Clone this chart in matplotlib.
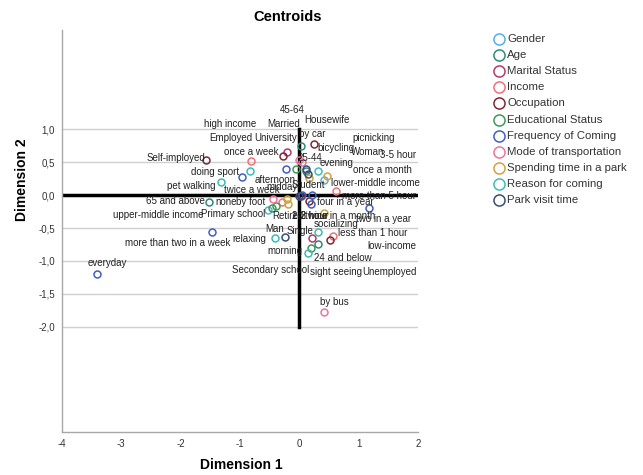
import matplotlib
matplotlib.use("Agg")
import matplotlib.pyplot as plt
from matplotlib.lines import Line2D

plt.rcParams['font.family'] = ['Liberation Sans', 'DejaVu Sans']

# ---------------- data: centroid coordinates per variable ----------------
gender_labels = ["Man", "Woman"]
gender_x = [-0.52, 0.42]
gender_y = [-0.23, 0.23]

age_labels = ["24 and below", "25-44", "45-64", "65 and above"]
age_x = [0.32, 0.12, 0.03, -1.52]
age_y = [-0.74, 0.36, 0.74, -0.10]

marital_labels = ["Married", "Single"]
marital_x = [-0.20, 0.22]
marital_y = [0.65, -0.65]

income_labels = ["high income", "upper-middle income", "lower-middle income", "low-income"]
income_x = [-0.81, -0.29, 0.62, 0.56]
income_y = [0.52, -0.10, 0.06, -0.62]

occupation_labels = ["Employed", "Self-imployed", "Housewife", "Student", "Retired", "Unemployed"]
occupation_x = [-0.27, -1.57, 0.24, 0.02, 0.17, 0.51]
occupation_y = [0.59, 0.53, 0.77, -0.01, -0.09, -0.68]

education_labels = ["none", "Primary school", "Secondary school", "University"]
education_x = [-0.46, -0.40, 0.20, -0.05]
education_y = [-0.19, -0.17, -0.81, 0.40]

frequency_labels = ["everyday", "more than two in a week", "once a week", "twice a week",
                    "once a month", "twice in a month", "four in a year", "two in a year"]
frequency_x = [-3.41, -1.47, -0.96, -0.22, 0.22, 0.19, 0.05, 1.18]
frequency_y = [-1.20, -0.56, 0.27, 0.40, 0.00, -0.14, 0.00, -0.20]

mode_labels = ["by foot", "by car", "bicycling", "by bus"]
mode_x = [-0.44, 0.00, 0.05, 0.41]
mode_y = [-0.06, 0.53, 0.50, -1.78]

spending_labels = ["less than 1 hour", "1-2 hour", "2-3 hour", "3-5 hour", "more than 5 hour"]
spending_x = [0.41, -0.20, -0.19, 0.47, 0.17]
spending_y = [-0.27, -0.06, -0.14, 0.29, 0.26]

reason_labels = ["picnicking", "doing sport", "pet walking", "relaxing", "socializing", "sight seeing"]
reason_x = [0.32, -0.83, -1.32, -0.41, 0.32, 0.15]
reason_y = [0.37, 0.36, 0.20, -0.65, -0.56, -0.88]

visit_labels = ["morning", "afternoon", "evening", "midday"]
visit_x = [-0.25, 0.15, 0.12, 0.00]
visit_y = [-0.64, 0.32, 0.40, -0.01]

series = [
    ("Gender", gender_labels, gender_x, gender_y, "#56aee6"),
    ("Age", age_labels, age_x, age_y, "#2f8a7a"),
    ("Marital Status", marital_labels, marital_x, marital_y, "#b23a6c"),
    ("Income", income_labels, income_x, income_y, "#f0707a"),
    ("Occupation", occupation_labels, occupation_x, occupation_y, "#7a2a35"),
    ("Educational Status", education_labels, education_x, education_y, "#3c9b56"),
    ("Frequency of Coming", frequency_labels, frequency_x, frequency_y, "#3f5fc4"),
    ("Mode of transportation", mode_labels, mode_x, mode_y, "#f072a0"),
    ("Spending time in a park", spending_labels, spending_x, spending_y, "#d1a33a"),
    ("Reason for coming", reason_labels, reason_x, reason_y, "#3cbcb8"),
    ("Park visit time", visit_labels, visit_x, visit_y, "#3a4d78"),
]

x_ticks = [-4, -3, -2, -1, 0, 1, 2]
y_ticks = [1.0, 0.5, 0.0, -0.5, -1.0, -1.5, -2.0]

# label placement (pixel offsets of label's left edge from its point)
label_offsets = {
    "Man": (-3, -19), "Woman": (27, 28),
    "24 and below": (-4, -14), "25-44": (-9, 13), "45-64": (-21, 36), "65 and above": (-63, 1),
    "Married": (-20, 28), "Single": (-26, 7),
    "high income": (-47, 37), "upper-middle income": (-169, -13),
    "lower-middle income": (-5, 8), "low-income": (35, -10),
    "Employed": (-74, 18), "Self-imployed": (-60, 2), "Housewife": (-9, 24),
    "Student": (-9, 11), "Retired": (-37, -15), "Unemployed": (33, -32),
    "none": (-57, 6), "Primary school": (-75, -8), "Secondary school": (-79, -22), "University": (-42, 31),
    "everyday": (-9, 11), "more than two in a week": (-87, -11), "once a week": (-18, 25),
    "twice a week": (-62, -21), "once a month": (41, 25), "twice in a month": (-6, -12),
    "four in a year": (15, -7), "two in a year": (-13, -11),
    "by foot": (-37, -3), "by car": (0, 26), "bicycling": (15, 14), "by bus": (-4, 10),
    "less than 1 hour": (14, -20), "1-2 hour": (5, -17), "2-3 hour": (4, -12),
    "3-5 hour": (53, 21), "more than 5 hour": (33, -18),
    "picnicking": (34, 33), "doing sport": (-59, -1), "pet walking": (-54, -4),
    "relaxing": (-43, -1), "socializing": (-5, 8), "sight seeing": (2, -19),
    "morning": (-17, -14), "afternoon": (-54, -6), "evening": (13, 6), "midday": (-33, 9),
}

fig = plt.figure(figsize=(6.43, 4.75), dpi=100)
ax = fig.add_axes([62 / 643, 1 - 432 / 475, 356 / 643, 402 / 475])

ax.set_xlim(-4, 2)
ax.set_ylim(-3.6, 2.51)

for yt in y_ticks:
    ax.axhline(yt, color="#d0d0d0", lw=1.0, zorder=0)
ax.axhline(0, color="black", lw=2.5, zorder=1)
ax.plot([0, 0], [min(y_ticks), max(y_ticks)], color="black", lw=2.5, zorder=1)

for name, labels, xs, ys, col in series:
    ax.plot(xs, ys, linestyle="none", marker="o", markersize=5, markerfacecolor="none",
            markeredgecolor=col, markeredgewidth=1.1, zorder=3)
    for lab, x, y in zip(labels, xs, ys):
        dx, dy = label_offsets.get(lab, (3, 6))
        ax.annotate(lab, (x, y), xytext=(dx, dy), textcoords="offset pixels",
                    ha="left", va="center", fontsize=7, color="#222222", zorder=4)

ax.set_xticks(x_ticks)
ax.set_xticklabels([str(t) for t in x_ticks])
ax.set_yticks(y_ticks)
ax.set_yticklabels([f"{t:.1f}".replace(".", ",") for t in y_ticks])
ax.tick_params(length=0, labelsize=7, colors="#333333", pad=5)

for s in ["top", "right"]:
    ax.spines[s].set_visible(False)
for s in ["left", "bottom"]:
    ax.spines[s].set_color("#a8a8a8")
    ax.spines[s].set_linewidth(1.0)

fig.text(288 / 643, 1 - 17 / 475, "Centroids", ha="center", va="center", fontsize=10.5, fontweight="bold")
fig.text(241 / 643, 1 - 465 / 475, "Dimension 1", ha="center", va="center", fontsize=10, fontweight="bold")
fig.text(22 / 643, 1 - 180 / 475, "Dimension 2", ha="center", va="center", fontsize=10,
         fontweight="bold", rotation=90)

# legend drawn by hand on the figure
for i, (name, labels, xs, ys, col) in enumerate(series):
    yy = 1 - (39 + i * 16.1) / 475
    fig.add_artist(Line2D([499 / 643], [yy], transform=fig.transFigure, marker="o", markersize=8,
                          markerfacecolor="none", markeredgecolor=col, markeredgewidth=1.1))
    fig.text(507 / 643, yy, name, ha="left", va="center", fontsize=8.2, color="#333333")

fig.savefig("out.png", dpi=100)
